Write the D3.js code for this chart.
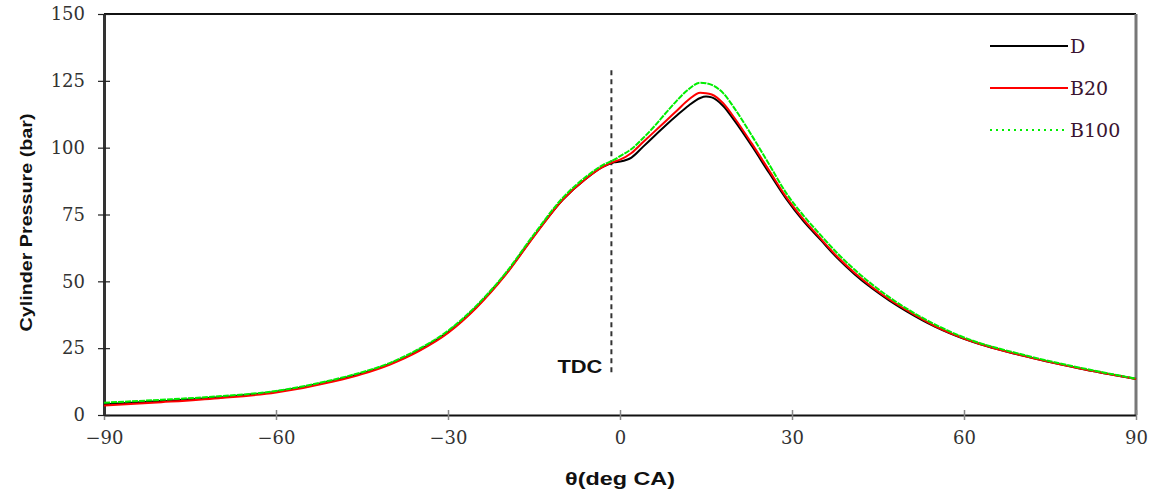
<!DOCTYPE html>
<html>
<head>
<meta charset="utf-8">
<script src="https://cdn.jsdelivr.net/npm/d3@7"></script>
<style>
  body { margin: 0; background: #fff; }
  svg { display: block; }
</style>
</head>
<body>
<script>
// Cylinder pressure vs crank angle for D, B20, B100

const theta = [-90, -80, -70, -60, -50, -45, -40, -35, -30, -25, -20, -15, -10, -6, -3, -1, 0, 2, 4, 6, 8, 10, 12, 14, 15, 16, 18, 20, 23, 26, 29, 32, 35, 38, 41, 44, 47, 50, 55, 60, 70, 80, 90];

const pressureD = [4.0, 5.2, 6.6, 8.7, 12.8, 15.6, 19.2, 24.3, 31, 40.5, 52.5, 67, 80.5, 88.3, 92.8, 94.5, 94.8, 96.3, 100.3, 104.4, 108.4, 112.2, 115.8, 118.6, 119.1, 118.8, 115.6, 110, 100.6, 90.6, 80.8, 72.5, 65.5, 58.5, 52.5, 47.3, 42.8, 38.8, 33, 28.5, 22.3, 17.5, 13.5];
const pressureB20 = [3.5, 4.8, 6.3, 8.4, 12.5, 15.3, 19.0, 24.0, 30.7, 40.2, 52.3, 66.8, 80.5, 88.3, 92.8, 94.8, 95.5, 98, 102, 106, 110, 114, 118, 120.5, 120.4, 119.9, 116.6, 111, 101.5, 91.5, 81.5, 73.2, 66, 59, 53, 47.8, 43.2, 39.2, 33.2, 28.6, 22.3, 17.5, 13.5];
const pressureB100 = [4.6, 5.7, 7.0, 9.0, 13.2, 16.0, 19.6, 24.8, 31.5, 41, 53, 67.6, 81.2, 89, 93.5, 95.5, 96.8, 99.5, 103.5, 108, 113, 117.8, 121.9, 124.3, 124.1, 123.5, 120.4, 114.6, 104.5, 93.8, 83, 74.6, 67.3, 60.3, 54.2, 48.8, 44, 39.8, 33.8, 29, 22.7, 17.8, 13.6];

const seriesNames = ["D", "B20", "B100"];
const xTicks = [-90, -60, -30, 0, 30, 60, 90];
const yTicks = [0, 25, 50, 75, 100, 125, 150];
const tdcAngle = -1.5;

const width = 1153, height = 492;
const margin = { left: 104, right: 17, top: 14, bottom: 77 };

const svg = d3.select("body").append("svg")
    .attr("width", width)
    .attr("height", height);

const x = d3.scaleLinear().domain([-90, 90]).range([margin.left, width - margin.right]);
const y = d3.scaleLinear().domain([0, 150]).range([height - margin.bottom, margin.top]);

const serifFont = "'DejaVu Serif', 'Liberation Serif', serif";
const sansFont = "'Liberation Sans', Arial, sans-serif";

// frame: top and right
svg.append("line")
    .attr("x1", x(-90)).attr("x2", x(90))
    .attr("y1", y(150)).attr("y2", y(150))
    .attr("stroke", "#111").attr("stroke-width", 2);
svg.append("line")
    .attr("x1", x(90)).attr("x2", x(90))
    .attr("y1", y(150)).attr("y2", y(0))
    .attr("stroke", "#777").attr("stroke-width", 3);

// x axis
const xAxis = svg.append("g")
    .attr("transform", `translate(0,${y(0)})`)
    .call(d3.axisBottom(x).tickValues(xTicks).tickSize(0).tickFormat(d => d < 0 ? "\u2212" + Math.abs(d) : d));
xAxis.select(".domain").attr("stroke", "#111").attr("stroke-width", 2);
xAxis.selectAll(".tick line").remove();
xAxis.selectAll(".tick").append("line")
    .attr("y1", -5).attr("y2", 5)
    .attr("stroke", "#888").attr("stroke-width", 1.5);
xAxis.selectAll(".tick text")
    .attr("y", 16)
    .attr("font-family", serifFont)
    .attr("font-size", 18)
    .attr("fill", "#333");

// y axis
const yAxis = svg.append("g")
    .attr("transform", `translate(${x(-90)},0)`)
    .call(d3.axisLeft(y).tickValues(yTicks).tickSize(0));
yAxis.select(".domain").attr("stroke", "#333").attr("stroke-width", 3);
yAxis.selectAll(".tick line").remove();
yAxis.selectAll(".tick").append("line")
    .attr("x1", -6).attr("x2", 6)
    .attr("stroke", "#222").attr("stroke-width", 1.2);
yAxis.selectAll(".tick text")
    .attr("x", -19)
    .attr("font-family", serifFont)
    .attr("font-size", 18)
    .attr("fill", "#333");

// axis titles (the source text is slightly stretched, hence textLength)
svg.append("text")
    .attr("transform", `translate(32,${(y(0) + y(150)) / 2 + 8}) rotate(-90)`)
    .attr("text-anchor", "middle")
    .attr("font-family", sansFont)
    .attr("font-weight", "bold")
    .attr("font-size", 17)
    .attr("textLength", 218)
    .attr("lengthAdjust", "spacingAndGlyphs")
    .attr("fill", "#111")
    .text("Cylinder Pressure (bar)");

svg.append("text")
    .attr("x", x(0))
    .attr("y", 485)
    .attr("text-anchor", "middle")
    .attr("font-family", sansFont)
    .attr("font-weight", "bold")
    .attr("font-size", 18)
    .attr("textLength", 110)
    .attr("lengthAdjust", "spacingAndGlyphs")
    .attr("fill", "#111")
    .text("\u03b8(deg CA)");

// TDC marker
svg.append("line")
    .attr("x1", x(tdcAngle)).attr("x2", x(tdcAngle))
    .attr("y1", y(129)).attr("y2", y(15))
    .attr("stroke", "#333").attr("stroke-width", 2)
    .attr("stroke-dasharray", "5,4");
svg.append("text")
    .attr("x", x(tdcAngle) - 9)
    .attr("y", y(15) - 2)
    .attr("text-anchor", "end")
    .attr("font-family", sansFont)
    .attr("font-weight", "bold")
    .attr("font-size", 18)
    .attr("textLength", 45)
    .attr("lengthAdjust", "spacingAndGlyphs")
    .attr("fill", "#111")
    .text("TDC");

// curves
const series = [
    { name: seriesNames[0], values: pressureD, color: "#000000", dash: null, legendDash: null },
    { name: seriesNames[1], values: pressureB20, color: "#ff0000", dash: null, legendDash: null },
    { name: seriesNames[2], values: pressureB100, color: "#00ee00", dash: "6,1", legendDash: "2,4" }
];

const line = d3.line()
    .x(d => x(d[0]))
    .y(d => y(d[1]))
    .curve(d3.curveMonotoneX);

series.forEach(s => {
    svg.append("path")
        .datum(theta.map((t, i) => [t, s.values[i]]))
        .attr("d", line)
        .attr("fill", "none")
        .attr("stroke", s.color)
        .attr("stroke-width", 2)
        .attr("stroke-dasharray", s.dash);
});

// legend
const legend = svg.append("g");
series.forEach((s, i) => {
    const ly = 46 + i * 42;
    legend.append("line")
        .attr("x1", 990).attr("x2", 1068)
        .attr("y1", ly).attr("y2", ly)
        .attr("stroke", s.color)
        .attr("stroke-width", 2)
        .attr("stroke-dasharray", s.legendDash);
    legend.append("text")
        .attr("x", 1070)
        .attr("y", ly + 7)
        .attr("font-family", serifFont)
        .attr("font-size", 19)
        .attr("fill", "#3a1430")
        .text(s.name);
});
</script>
</body>
</html>
